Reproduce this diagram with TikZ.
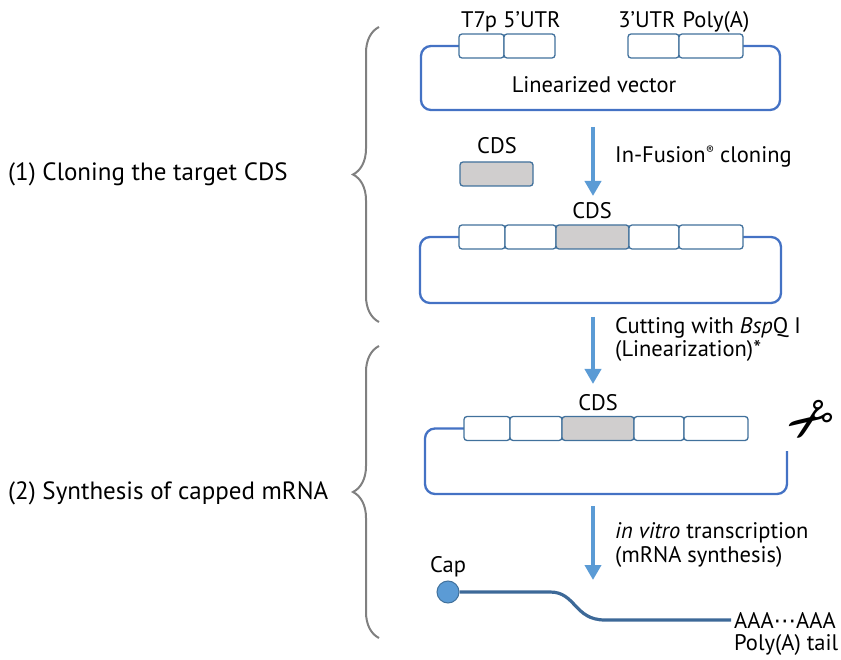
\documentclass[tikz,border=0pt]{standalone}
\usepackage{fontspec}
\setmainfont{PT Sans}
\newfontfamily\symbolfont{DejaVu Sans}
\usetikzlibrary{arrows.meta,decorations.pathreplacing}
\definecolor{vecblue}{HTML}{4472C4}
\definecolor{boxblue}{HTML}{41719C}
\definecolor{arrowblue}{HTML}{5B9BD5}
\definecolor{mrnablue}{HTML}{3D6998}
\definecolor{cdsgray}{HTML}{D0CECE}

\begin{document}
\begin{tikzpicture}[x=1pt, y=-1pt, font=\fontsize{22.5}{26}\selectfont,
  element/.style={draw=boxblue, line width=1.3pt, rounded corners=3pt, fill=white, minimum height=24pt, inner sep=0pt},
  cds/.style={element, fill=cdsgray},
  vector/.style={draw=vecblue, line width=2.3pt, rounded corners=10pt},
  process/.style={draw=arrowblue, line width=4pt, -{Triangle[width=16pt,length=15pt]}},
  bracket/.style={draw=gray, line width=2pt, decorate, decoration={brace, amplitude=26pt}},
  mrna/.style={draw=mrnablue, line width=3.2pt},
  tag/.style={anchor=west, inner sep=0pt},
  head/.style={anchor=base, inner sep=0pt},
  stage/.style={tag, font=\fontsize{25}{30}\selectfont},
]
\useasboundingbox (0,0) rectangle (841,660);

% step labels and braces
\node[stage] (cloning) at (8,174) {(1) Cloning the target CDS};
\node[stage] (synthesis) at (8,493) {(2) Synthesis of capped mRNA};
\coordinate (brace1top) at (379,27);
\coordinate (brace1bottom) at (379,322);
\coordinate (brace2top) at (379,346);
\coordinate (brace2bottom) at (379,638);
\draw[bracket] (brace1bottom) -- (brace1top);
\draw[bracket] (brace2bottom) -- (brace2top);

% linearized vector
\draw[vector] (459,46) -- (421,46) -- (421,110) -- (780,110) -- (780,46) -- (743,46);
\node[element, minimum width=45pt] (t7p1) at (481.5,46) {};
\node[element, minimum width=51pt] (utr5a) at (529.5,46) {};
\node[element, minimum width=51pt] (utr3a) at (653.5,46) {};
\node[element, minimum width=64pt] (polya1) at (711,46) {};
\node[head] at (479,28) {T7p};
\node[head] at (532,28) {5'UTR};
\node[head] at (647,28) {3'UTR};
\node[head] at (716,28) {Poly(A)};
\node (vectorname) at (594,85) {Linearized vector};

% cloning
\coordinate (arrow1top) at (593,127);
\coordinate (arrow1tip) at (593,196);
\draw[process] (arrow1top) -- (arrow1tip);
\node[tag] (infusion) at (615,157) {In-Fusion{\fontsize{12}{12}\selectfont\raisebox{8pt}{®}} cloning};
\node[cds, minimum width=73pt] (insert) at (496.5,174) {};
\node[head] at (497,154) {CDS};

% vector with insert
\draw[vector] (459,237) -- (420,237) -- (420,303) -- (781,303) -- (781,237) -- (743,237);
\node[element, minimum width=46pt] (t7p2) at (482,237) {};
\node[element, minimum width=51pt] (utr5b) at (530.5,237) {};
\node[cds, minimum width=73pt] (cds2) at (592.5,237) {};
\node[element, minimum width=50pt] (utr3b) at (654,237) {};
\node[element, minimum width=64pt] (polya2) at (711,237) {};
\node[head] at (592,219) {CDS};

% linearization
\coordinate (arrow2top) at (593,317);
\coordinate (arrow2tip) at (593,384);
\draw[process] (arrow2top) -- (arrow2tip);
\node[tag] (cutting) at (615,328) {Cutting with \textit{Bsp}Q I};
\node[tag] (linearization) at (615,351) {(Linearization)*};

% cut vector
\coordinate (cutend) at (787,451);
\draw[vector] (464,428.5) -- (425,428.5) -- (425,494) -- (787,494) -- (cutend);
\node[element, minimum width=46pt] (t7p3) at (487,428.5) {};
\node[element, minimum width=52pt] (utr5c) at (536,428.5) {};
\node[cds, minimum width=72pt] (cds3) at (598,428.5) {};
\node[element, minimum width=50pt] (utr3c) at (659,428.5) {};
\node[element, minimum width=64pt] (polya3) at (716,428.5) {};
\node[head] at (598,410) {CDS};
\node[rotate=215, inner sep=0pt] (scissors) at (808,417) {\fontsize{56}{56}\selectfont\symbolfont ✂};

% transcription
\coordinate (arrow3top) at (593,506);
\coordinate (arrow3tip) at (593,580);
\draw[process] (arrow3top) -- (arrow3tip);
\node[tag] (transcription) at (615,533) {\textit{in vitro} transcription};
\node[tag] (mrnasynthesis) at (615,557) {(mRNA synthesis)};

% capped mRNA
\coordinate (tailend) at (731,620);
\node[circle, fill=arrowblue, draw=boxblue, line width=1pt, minimum size=22pt, inner sep=0pt] (cap) at (448,592) {};
\draw[mrna] (cap.east) -- (550,592) .. controls (576,592) and (574,620) .. (605,620) -- (tailend);
\node[head] at (448,572) {Cap};
\node[tag] (polyaseq) at (734,620) {AAA{\symbolfont ⋯}AAA};
\node[tag] (polyatail) at (734,645) {Poly(A) tail};
\end{tikzpicture}
\end{document}
